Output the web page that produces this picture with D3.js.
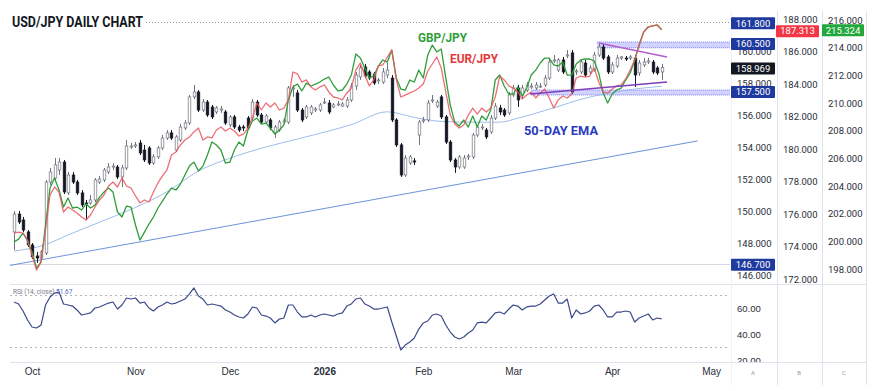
<!DOCTYPE html>
<html>
<head>
<meta charset="utf-8">
<script src="https://cdn.jsdelivr.net/npm/d3@7"></script>
<style>
  body { margin: 0; background: #fff; }
  svg { display: block; font-family: Roboto, "Noto Sans", sans-serif; }
</style>
</head>
<body>
<svg id="chart" width="877" height="391"></svg>
<script>
// USD/JPY daily candles, one row per trading day: [open, high, low, close]
var usdCandles = [
  [148.69,150.00,147.56,149.81],[149.81,150.00,149.19,149.31],[149.44,149.63,148.69,148.81],[148.69,148.81,147.75,147.88],
  [147.88,148.00,147.00,147.13],[147.19,147.44,146.75,147.06],[147.06,147.56,146.94,147.44],[147.38,151.94,147.25,151.81],
  [151.81,152.69,151.63,152.44],[152.06,153.31,151.94,152.88],[152.56,153.31,152.25,153.06],[153.06,153.19,151.06,151.19],
  [151.13,152.44,151.00,152.25],[152.25,152.44,151.69,151.81],[151.81,151.94,151.00,151.13],[151.13,151.31,150.25,150.38],
  [150.50,150.69,149.44,150.44],[150.50,151.00,150.38,150.69],[150.69,152.06,150.56,151.94],[151.81,152.19,151.69,152.00],
  [151.94,152.69,151.81,152.56],[152.44,153.00,152.31,152.75],[152.75,153.00,152.56,152.81],[152.75,152.88,152.00,152.13],
  [152.13,152.88,151.50,152.69],[152.69,154.44,152.56,154.06],[154.00,154.25,153.88,154.06],[154.06,154.31,153.94,154.13],
  [154.25,154.44,153.50,153.63],[153.81,154.13,153.06,153.19],[153.94,154.06,152.88,153.00],[153.00,153.56,152.88,153.38],
  [153.38,154.06,153.25,153.94],[153.94,154.75,153.81,154.56],[154.56,155.06,154.44,154.88],[154.88,155.06,154.44,154.56],
  [153.81,154.75,153.69,154.63],[154.44,155.44,154.31,155.25],[155.19,155.69,155.06,155.50],[155.50,157.25,155.38,157.13],
  [157.13,157.88,157.00,157.44],[157.44,157.56,156.19,156.31],[156.31,157.00,156.19,156.81],[156.81,156.94,155.88,156.00],
  [156.50,156.63,155.75,155.88],[156.19,156.56,156.06,156.44],[156.31,156.56,156.13,156.38],[156.19,156.31,155.38,155.50],
  [155.38,156.00,155.25,155.88],[155.88,156.00,155.13,155.25],[155.25,155.38,154.94,155.06],[155.25,155.38,155.00,155.19],
  [155.81,155.94,155.06,155.19],[155.81,157.00,155.69,156.81],[156.81,156.94,155.88,156.00],[156.00,156.13,155.44,155.56],
  [155.56,156.06,155.44,155.94],[155.69,155.81,155.06,155.19],[154.88,155.38,154.56,155.25],[155.06,155.69,154.94,155.56],
  [155.56,155.81,155.44,155.69],[155.56,157.81,155.44,157.69],[157.63,157.88,157.13,157.69],[157.38,157.56,156.19,156.31],
  [156.31,156.44,155.56,155.69],[155.88,156.63,155.75,156.50],[156.13,156.63,156.00,156.50],[156.31,156.50,156.19,156.38],
  [156.31,156.75,156.19,156.63],[156.75,157.06,156.69,156.81],[156.75,156.94,156.06,156.19],[156.50,156.75,156.44,156.63],
  [156.63,156.88,156.56,156.69],[156.56,156.81,156.50,156.69],[156.56,157.13,156.44,156.94],[156.94,158.00,156.81,157.81],
  [157.81,158.69,157.56,158.50],[158.38,159.13,158.19,158.94],[159.00,159.19,158.31,158.44],[158.69,158.81,158.19,158.31],
  [158.56,158.69,157.88,158.00],[158.13,158.31,157.94,158.19],[158.06,158.94,157.94,158.69],[158.50,159.25,158.31,158.81],
  [158.31,158.50,155.56,155.69],[155.69,155.81,154.00,154.13],[154.13,154.25,152.13,152.25],[152.25,153.50,152.13,153.31],
  [153.00,153.50,152.88,153.38],[153.13,153.31,152.88,153.06],[154.75,155.69,154.13,155.56],[155.63,155.88,155.50,155.69],
  [155.69,156.94,155.56,156.75],[156.88,157.25,156.75,156.94],[156.56,156.94,156.44,156.81],[157.13,157.25,155.75,155.88],
  [155.88,156.00,154.19,154.31],[154.31,154.44,153.06,153.19],[153.19,153.31,152.38,152.75],[152.75,153.50,152.63,153.38],
  [152.75,153.50,152.63,153.31],[153.38,153.56,153.19,153.44],[153.38,154.88,153.25,154.75],[154.75,155.38,154.63,155.25],
  [155.19,155.44,155.06,155.25],[155.06,155.19,154.50,154.63],[154.94,156.00,154.81,155.81],[155.81,156.75,155.69,156.56],
  [156.44,156.63,156.00,156.19],[156.31,156.44,155.88,156.00],[156.13,157.44,156.00,157.25],[157.25,157.88,157.13,157.69],
  [157.69,157.88,156.50,156.94],[157.25,157.88,157.06,157.69],[157.56,158.06,157.44,157.88],[157.75,158.00,157.63,157.81],
  [157.69,158.06,157.56,157.88],[157.81,158.00,157.69,157.81],[157.88,158.50,157.75,158.31],[158.31,159.56,158.19,159.31],
  [159.38,159.75,159.25,159.44],[158.81,159.56,158.69,159.44],[159.44,159.63,158.56,158.69],[159.69,160.06,159.56,159.75],
  [159.88,160.06,157.31,157.44],[158.69,158.88,158.50,158.75],[158.69,159.44,158.56,159.31],[159.25,159.44,158.38,158.50],
  [158.69,159.13,158.56,158.94],[158.81,159.94,158.69,159.75],[159.75,160.44,159.63,160.25],[160.25,160.44,159.44,159.56],
  [159.63,159.75,158.56,158.69],[158.69,159.31,158.56,159.13],[159.06,159.75,158.94,159.56],[159.56,159.69,159.44,159.63],
  [159.56,159.69,159.38,159.50],[159.56,159.75,159.44,159.63],[159.56,159.75,157.75,158.50],[158.63,159.44,158.44,159.25],
  [159.13,159.56,159.00,159.31],[159.31,159.56,159.19,159.38],[159.31,159.44,158.56,158.69],[158.94,159.06,158.50,158.63],
  [158.69,159.19,158.19,158.969]
];

// EUR/JPY closes (own scale)
var eurJpy = [
  174.83,174.89,174.83,174.40,173.48,172.55,173.05,175.02,177.17,177.66,
  177.35,176.12,176.43,176.25,176.06,175.82,175.63,175.94,176.43,176.86,
  177.17,177.72,177.97,177.66,178.22,177.72,177.60,177.11,176.68,176.86,
  176.74,177.35,177.91,178.34,178.71,179.63,179.82,180.25,180.55,180.74,
  181.05,181.29,180.55,180.74,180.68,181.17,181.35,181.11,181.29,181.11,
  180.80,180.92,181.29,181.91,182.83,182.40,182.83,182.58,182.83,182.40,
  182.52,183.02,184.74,184.62,184.12,184.25,183.82,183.63,183.82,183.94,
  183.51,183.20,183.14,183.02,183.45,183.75,184.86,185.29,184.55,183.88,
  184.25,185.11,185.17,185.66,186.09,184.25,183.20,183.32,183.45,183.57,
  183.75,184.00,184.80,185.23,185.66,184.98,183.51,182.09,181.54,181.29,
  181.48,182.09,182.52,182.15,182.52,182.28,182.52,183.20,184.49,184.25,
  183.88,183.75,183.51,183.08,183.32,183.51,183.14,183.45,183.69,183.14,
  182.52,183.02,183.26,183.14,183.38,184.37,184.49,184.43,184.49,184.98,
  184.12,183.51,183.45,183.69,183.88,183.94,184.31,184.86,185.48,186.40,
  187.20,187.51,187.57,187.63,187.313
];

// GBP/JPY closes (own scale)
var gbpJpy = [
  199.95,200.16,200.60,200.02,199.22,198.07,198.50,201.18,203.85,204.58,
  203.71,202.48,203.13,202.41,202.48,202.26,202.70,202.41,202.62,203.20,
  203.56,203.85,203.56,202.12,201.76,202.55,202.48,201.18,200.09,200.67,
  201.25,201.76,202.41,202.91,203.42,203.85,203.71,204.14,204.79,205.44,
  205.73,205.08,205.44,206.24,207.18,206.96,206.60,205.66,205.73,206.60,
  207.18,206.89,208.05,208.70,208.91,208.48,208.55,208.19,207.76,208.05,
  208.41,210.22,211.16,211.37,210.87,211.44,211.23,211.37,211.52,211.73,
  211.88,211.30,210.87,210.94,211.37,212.02,213.54,213.25,212.53,211.81,
  211.95,212.67,213.11,212.96,213.83,211.81,211.01,210.94,211.66,211.52,
  212.38,211.81,213.47,214.19,213.69,213.90,211.81,209.85,208.62,208.34,
  208.77,208.26,209.06,208.26,209.06,208.77,209.49,211.66,212.02,211.23,
  210.65,210.65,211.16,210.50,211.08,212.02,212.38,212.89,213.25,213.25,
  212.75,212.67,212.96,212.02,212.02,212.82,213.11,213.18,213.18,213.04,
  212.17,210.72,210.00,210.65,210.94,211.08,211.66,212.17,213.11,214.19,
  215.13,215.49,215.57,215.64,215.324
];

// 50-day EMA of USD/JPY, read at [bar, value]
var ema50 = [
  [0,147.5],[7,147.9],[12,148.5],[19,149.3],[26,150.1],[34,151.2],[41,152.5],[48,153.3],
  [56,154.0],[63,154.5],[70,155.0],[75,155.4],[83,156.2],[89,155.85],[95,155.6],[103,155.55],
  [108,155.55],[112,155.8],[120,156.45],[127,157.05],[135,157.5],[144,157.8]
];

// RSI(14, close)
var rsi = [
  64.6,63.1,57.7,50.8,45.4,44.6,46.9,62.3,68.5,71.5,
  72.3,63.1,62.3,61.5,58.5,54.6,55.4,56.2,60.0,60.8,
  62.3,63.8,64.6,59.2,62.3,67.7,66.9,67.7,63.8,64.6,
  60.0,57.7,60.8,62.3,64.6,63.1,63.8,65.4,66.9,70.8,
  75.4,69.2,66.9,62.3,63.1,62.3,61.5,58.5,56.9,54.6,
  53.1,52.3,55.4,60.8,60.0,54.6,53.8,52.3,48.5,51.5,
  52.3,62.3,62.3,56.9,53.1,53.1,54.6,53.1,54.6,55.4,
  54.6,53.8,55.4,56.2,61.5,63.1,66.9,67.7,63.1,61.5,
  59.2,59.2,60.0,60.8,49.2,38.5,27.7,31.5,33.8,36.9,
  43.8,48.5,50.0,54.6,55.4,53.8,46.9,41.5,37.7,36.2,
  37.7,40.8,43.1,48.5,49.2,48.5,52.3,56.2,56.9,55.4,
  59.2,62.3,61.5,58.5,60.8,61.5,61.5,63.1,66.2,69.2,
  70.8,63.8,63.8,66.9,52.3,58.5,55.4,56.2,57.7,61.5,
  62.3,58.5,53.1,53.1,56.9,56.9,57.7,56.9,49.2,52.3,
  53.8,55.4,50.8,52.3,51.67
];

// time axis: bar index of each month label
var monthBars = [4, 27, 48, 69, 91, 111, 133, 155];
var monthNames = ['Oct', 'Nov', 'Dec', '2026', 'Feb', 'Mar', 'Apr', 'May'];

// drawn levels and zones (USD/JPY)
var levelTop = 161.8;
var levelLow = 146.7;
var resistZone = [160.2, 160.56], resistLabel = 160.5, resistFrom = 129.6;
var supportZone = [157.25, 157.56], supportLabel = 157.5, supportFrom = 115;
var trendLine = [[-0.9, 146.6], [152, 154.38]];
var triUpper = [[130, 160.5], [145.2, 159.63]];
var triLower = [[114.7, 157.31], [145.2, 158.06]];

var usdTicks = [146,148,150,152,154,156,158,160];
var eurTicks = [172,174,176,178,180,182,184,186,188];
var gbpTicks = [198,200,202,204,206,208,210,212,214,216];
var rsiTicks = [20, 40, 60];

var svg = d3.select('#chart');
var plotL = 10, plotR = 730, mainTop = 11, mainBot = 284, rsiBot = 362;
var col1 = 731, col2 = 777, col3 = 822, col4 = 866;

var x = d3.scaleLinear().domain([-0.9, 159.2]).range([plotL, plotR]);
var yUsd = d3.scaleLinear().domain([146, 162]).range([275, 19]);
var yEur = d3.scaleLinear().domain([172, 188]).range([279, 19]);
var yGbp = d3.scaleLinear().domain([198, 216]).range([269, 20]);
var yRsi = d3.scaleLinear().domain([20, 60]).range([360, 308]);
var fmt3 = d3.format('.3f');

var defs = svg.append('defs');
defs.append('clipPath').attr('id', 'clipMain').append('rect')
  .attr('x', plotL).attr('y', mainTop).attr('width', plotR - plotL).attr('height', mainBot - mainTop);
defs.append('clipPath').attr('id', 'clipRsi').append('rect')
  .attr('x', plotL).attr('y', mainBot).attr('width', col4 - plotL).attr('height', rsiBot - mainBot);

// pane separators
var sep = svg.append('g').attr('stroke', '#e0e3eb').attr('stroke-width', 1);
sep.append('line').attr('x1', plotL).attr('x2', col4).attr('y1', mainBot + 0.5).attr('y2', mainBot + 0.5);
sep.append('line').attr('x1', plotL).attr('x2', col4).attr('y1', rsiBot + 0.5).attr('y2', rsiBot + 0.5);
[col2, col3, col4].forEach(function(c) {
  sep.append('line').attr('x1', c + 0.5).attr('x2', c + 0.5).attr('y1', mainTop).attr('y2', 385);
});
sep.append('line').attr('x1', col1 + 0.5).attr('x2', col1 + 0.5).attr('y1', mainTop).attr('y2', 385).attr('stroke', '#f0f2f6');

var main = svg.append('g').attr('clip-path', 'url(#clipMain)');

// horizontal levels
main.append('line').attr('x1', plotL).attr('x2', plotR)
  .attr('y1', Math.round(yUsd(levelLow)) + 0.5).attr('y2', Math.round(yUsd(levelLow)) + 0.5)
  .attr('stroke', '#d6d9e0');
svg.append('line').attr('x1', 146).attr('x2', plotR)
  .attr('y1', Math.round(yUsd(levelTop)) + 0.5).attr('y2', Math.round(yUsd(levelTop)) + 0.5)
  .attr('stroke', '#9598a1').attr('stroke-dasharray', '1,2');

// zones
function zone(range, from) {
  main.append('rect').attr('x', x(from)).attr('width', plotR - x(from))
    .attr('y', yUsd(range[1])).attr('height', yUsd(range[0]) - yUsd(range[1]))
    .attr('fill', '#b4b4ff').attr('fill-opacity', 0.6);
  range.forEach(function(v) {
    main.append('line').attr('x1', x(from)).attr('x2', plotR)
      .attr('y1', yUsd(v)).attr('y2', yUsd(v))
      .attr('stroke', '#7c7ff2').attr('stroke-dasharray', '1,1');
  });
}
zone(resistZone, resistFrom);
zone(supportZone, supportFrom);

// long trend line and EMA
main.append('path').datum(trendLine)
  .attr('d', d3.line().x(function(d) { return x(d[0]); }).y(function(d) { return yUsd(d[1]); }))
  .attr('fill', 'none').attr('stroke', '#6d93dc').attr('stroke-width', 1);
main.append('path').datum(ema50)
  .attr('d', d3.line().curve(d3.curveMonotoneX).x(function(d) { return x(d[0]); }).y(function(d) { return yUsd(d[1]); }))
  .attr('fill', 'none').attr('stroke', '#93b5e8').attr('stroke-width', 0.9);

// candles
var up = function(d) { return d[3] >= d[0]; };
var cg = main.append('g');
cg.selectAll('line').data(usdCandles).join('line')
  .attr('x1', function(d, i) { return Math.round(x(i)) + 0.5; })
  .attr('x2', function(d, i) { return Math.round(x(i)) + 0.5; })
  .attr('y1', function(d) { return yUsd(d[1]); })
  .attr('y2', function(d) { return yUsd(d[2]); })
  .attr('stroke', function(d) { return up(d) ? '#70737d' : '#131722'; });
cg.selectAll('rect').data(usdCandles).join('rect')
  .attr('x', function(d, i) { return Math.round(x(i)) - 0.8; })
  .attr('width', 2.6)
  .attr('y', function(d) { return yUsd(Math.max(d[0], d[3])); })
  .attr('height', function(d) { return Math.max(1, Math.abs(yUsd(d[0]) - yUsd(d[3]))); })
  .attr('fill', function(d) { return up(d) ? '#ffffff' : '#131722'; })
  .attr('stroke', function(d) { return up(d) ? '#70737d' : '#131722'; })
  .attr('stroke-width', 0.7);

// cross pairs
main.append('path').datum(gbpJpy)
  .attr('d', d3.line().x(function(d, i) { return x(i); }).y(function(d) { return yGbp(d); }))
  .attr('fill', 'none').attr('stroke', '#2f9e3a').attr('stroke-width', 1.3).attr('stroke-linejoin', 'round');
main.append('path').datum(eurJpy)
  .attr('d', d3.line().x(function(d, i) { return x(i); }).y(function(d) { return yEur(d); }))
  .attr('fill', 'none').attr('stroke', '#e8575f').attr('stroke-width', 1.3).attr('stroke-opacity', 0.85)
  .attr('stroke-linejoin', 'round');

// triangle
[[triUpper, '#b35fcb'], [triLower, '#7d3fb8']].forEach(function(t) {
  main.append('path').datum(t[0])
    .attr('d', d3.line().x(function(d) { return x(d[0]); }).y(function(d) { return yUsd(d[1]); }))
    .attr('fill', 'none').attr('stroke', t[1]).attr('stroke-width', 1.5);
});

// annotations
svg.append('rect').attr('x', 10).attr('y', 13).attr('width', 136).attr('height', 16).attr('fill', '#fff');
svg.append('text').attr('x', 12).attr('y', 27).text('USD/JPY DAILY CHART')
  .attr('font-size', 15).attr('font-weight', 700).attr('fill', '#131722')
  .attr('textLength', 131).attr('lengthAdjust', 'spacingAndGlyphs');
function note(txt, x0, base, w, color) {
  svg.append('text').attr('x', x0).attr('y', base).text(txt)
    .attr('font-size', 13).attr('font-weight', 700).attr('fill', color)
    .attr('textLength', w).attr('lengthAdjust', 'spacingAndGlyphs');
}
note('GBP/JPY', 418, 42, 49, '#2f9e3a');
note('EUR/JPY', 450, 63, 48, '#e5383b');
note('50-DAY EMA', 524, 135, 74, '#2a3bbf');

// price scales
function priceAxis(scale, ticks, left) {
  var g = svg.append('g').attr('transform', 'translate(' + left + ',0)')
    .call(d3.axisRight(scale).tickValues(ticks).tickFormat(fmt3).tickSize(0).tickPadding(6));
  g.select('.domain').remove();
  g.selectAll('text').attr('font-size', 9.5).attr('fill', '#2a2e39').attr('font-family', 'Roboto, sans-serif');
}
priceAxis(yUsd, usdTicks, col1);
priceAxis(yEur, eurTicks, col2);
priceAxis(yGbp, gbpTicks, col3);

function priceTag(scale, v, left, w, color) {
  var cy = scale(v) + 1;
  svg.append('rect').attr('x', left).attr('y', cy - 6).attr('width', w).attr('height', 12)
    .attr('rx', 1).attr('fill', color);
  svg.append('text').attr('x', left + w / 2).attr('y', cy).attr('dy', '0.35em')
    .attr('text-anchor', 'middle').attr('font-size', 9.5).attr('fill', '#fff').text(fmt3(v));
}
priceTag(yUsd, levelTop, col1, 44, '#1f3a9e');
priceTag(yUsd, resistLabel, col1, 44, '#1f3a9e');
priceTag(yUsd, usdCandles[usdCandles.length - 1][3], col1, 44, '#131722');
priceTag(yUsd, supportLabel, col1, 44, '#1f3a9e');
priceTag(yUsd, levelLow, col1, 44, '#1f3a9e');
priceTag(yEur, eurJpy[eurJpy.length - 1], col2 - 1, 43, '#f23645');
priceTag(yGbp, gbpJpy[gbpJpy.length - 1], col3, 42, '#22a83a');

// RSI pane
var rp = svg.append('g').attr('clip-path', 'url(#clipRsi)');
[70, 30].forEach(function(v) {
  rp.append('line').attr('x1', plotL).attr('x2', plotR)
    .attr('y1', Math.round(yRsi(v)) + 0.5).attr('y2', Math.round(yRsi(v)) + 0.5)
    .attr('stroke', '#b2b5be').attr('stroke-dasharray', '2,3');
});
rp.append('path').datum(rsi)
  .attr('d', d3.line().x(function(d, i) { return x(i); }).y(function(d) { return yRsi(d); }))
  .attr('fill', 'none').attr('stroke', '#3b4a8a').attr('stroke-width', 1.2).attr('stroke-linejoin', 'round');
var ra = rp.append('g').attr('transform', 'translate(' + col1 + ',0)')
  .call(d3.axisRight(yRsi).tickValues(rsiTicks).tickFormat(d3.format('.2f')).tickSize(0).tickPadding(6));
ra.select('.domain').remove();
ra.selectAll('text').attr('font-size', 9.5).attr('fill', '#2a2e39');
var rl = svg.append('text').attr('x', 13).attr('y', 294).attr('font-size', 6.5).attr('fill', '#787b86');
rl.append('tspan').text('RSI (14, close) ');
rl.append('tspan').attr('fill', '#5566c8').text(d3.format('.2f')(rsi[rsi.length - 1]));

// time axis
var xa = svg.append('g').attr('transform', 'translate(0,' + rsiBot + ')')
  .call(d3.axisBottom(x).tickValues(monthBars)
    .tickFormat(function(d, i) { return monthNames[i]; }).tickSize(0).tickPadding(6));
xa.select('.domain').remove();
xa.selectAll('text').attr('font-size', 10).attr('fill', '#2a2e39')
  .attr('font-weight', function(d, i) { return monthNames[i] === '2026' ? 600 : 400; });

['A', 'B', 'C'].forEach(function(t, i) {
  svg.append('text').attr('x', [col1, col2, col3][i] + 22).attr('y', 375)
    .attr('text-anchor', 'middle').attr('font-size', 6).attr('fill', '#9598a1').text(t);
});
</script>
</body>
</html>
